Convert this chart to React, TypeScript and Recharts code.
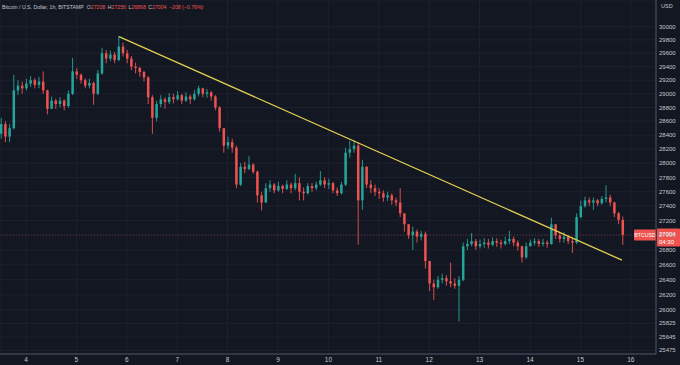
import React from 'react';
import { ComposedChart, Bar, XAxis, YAxis, CartesianGrid, ReferenceLine } from 'recharts';

// BTC/USD, 2h candles (open = previous close)
const firstOpen = 28420;
const startDay = 3.5;

const closes = [
  28560, 28380, 28500, 29050, 29120, 29080, 29150, 29200, 29130, 29180,
  29050, 28780, 28900, 28850, 28900, 28820, 29000, 29330, 29280, 29200,
  29120, 29160, 29000, 29300, 29600, 29520, 29580, 29500, 29700, 29600,
  29520, 29400, 29380, 29320, 29240, 28950, 28650, 28850, 28920, 28880,
  28950, 28920, 28980, 28900, 28960, 28920, 29000, 29080, 29000, 29020,
  28960, 28800, 28500, 28250, 28300, 28220, 27700, 27950, 27920, 27980,
  27880, 27550, 27450, 27650, 27700, 27620, 27680, 27640, 27700, 27650,
  27720, 27600, 27580, 27680, 27650, 27700, 27760, 27700, 27720, 27620,
  27580, 27700, 28150, 28200, 28250, 27480, 27950, 27700, 27650, 27600,
  27580, 27520, 27550, 27480, 27450, 27300, 27150, 27000, 27050, 26980,
  27020, 26650, 26350, 26300, 26400, 26420, 26380, 26350, 26320, 26400,
  26850, 26880, 26920, 26850, 26880, 26900, 26870, 26920, 26900, 26880,
  26920, 26950, 26900, 26850, 26700, 26850, 26900, 26920, 26880, 26900,
  26880, 27150, 27000, 26950, 26980, 26920, 26900, 27250, 27400, 27480,
  27450, 27480, 27440, 27500, 27520, 27450, 27300, 27210, 27004,
];

const highs = [
  28650, 28600, 28560, 29280, 29200, 29180, 29220, 29260, 29230, 29250,
  29330, 29060, 28960, 28930, 28950, 28920, 29050, 29530, 29380, 29300,
  29230, 29220, 29180, 29350, 29680, 29650, 29640, 29620, 29860, 29760,
  29650, 29560, 29460, 29400, 29340, 29260, 28980, 28900, 28980, 28950,
  29010, 29000, 29040, 29000, 29020, 28990, 29060, 29120, 29090, 29070,
  29040, 28980, 28820, 28500, 28380, 28350, 28250, 28000, 28020, 28100,
  28000, 27900, 27600, 27720, 27760, 27720, 27740, 27700, 27760, 27730,
  27850, 27800, 27660, 27720, 27720, 27740, 27890, 27800, 27780, 27740,
  27660, 27740, 28220, 28320, 28330, 28300, 28050, 27960, 27760, 27700,
  27650, 27620, 27600, 27580, 27520, 27650, 27300, 27150, 27120, 27080,
  27060, 27050, 26650, 26400, 26450, 26480, 26460, 26630, 26420, 26450,
  26900, 26950, 27030, 26950, 26940, 26960, 26950, 26970, 26960, 26940,
  26980, 27060, 26980, 26930, 26860, 26900, 26940, 26960, 26950, 26950,
  26930, 27240, 27150, 27050, 27040, 27000, 26980, 27300, 27480, 27530,
  27520, 27520, 27500, 27540, 27690, 27560, 27460, 27320, 27256,
];

const lows = [
  28350, 28300, 28300, 28480, 28980, 29000, 29050, 29100, 29080, 29080,
  29000, 28700, 28780, 28780, 28800, 28760, 28800, 28980, 29220, 29150,
  29080, 29080, 28840, 28980, 29280, 29450, 29480, 29450, 29480, 29550,
  29450, 29350, 29300, 29250, 29180, 28850, 28420, 28600, 28800, 28780,
  28850, 28860, 28900, 28850, 28880, 28850, 28900, 28960, 28950, 28940,
  28900, 28760, 28450, 28150, 28200, 28150, 27650, 27680, 27860, 27900,
  27850, 27450, 27340, 27450, 27600, 27580, 27600, 27580, 27620, 27580,
  27620, 27480, 27480, 27560, 27600, 27620, 27680, 27650, 27640, 27580,
  27540, 27560, 27680, 28080, 28150, 26870, 27350, 27650, 27580, 27540,
  27500, 27460, 27470, 27420, 27400, 27250, 27050, 26950, 26800, 26900,
  26930, 26550, 26250, 26130, 26280, 26350, 26320, 26300, 26280, 25850,
  26380, 26800, 26850, 26800, 26820, 26830, 26820, 26850, 26840, 26820,
  26860, 26880, 26850, 26790, 26630, 26680, 26850, 26860, 26840, 26850,
  26830, 26870, 26950, 26900, 26900, 26880, 26760, 26880, 27230, 27380,
  27400, 27350, 27400, 27420, 27450, 27400, 27250, 27150, 26868,
];

const dayTicks = [4, 5, 6, 7, 8, 9, 10, 11, 12, 13, 14, 15, 16];
const priceTicks = [
  25475, 25645, 25825, 26000, 26200, 26400, 26600, 26800, 27000, 27200, 27400,
  27600, 27800, 28000, 28200, 28400, 28600, 28800, 29000, 29200, 29400, 29600,
  29800, 30000,
];
const lastPrice = 27004;
const trendLine = [
  { x: 5.845, y: 29850 },
  { x: 15.825, y: 26663 },
];

const UP = '#26a69a';
const DOWN = '#ef5350';
const BG = '#131722';
const GRID = '#1d2130';
const TEXT = '#c3c6ce';
const FONT = '"Liberation Sans", Arial, sans-serif';

const candles = closes.map((close, i) => {
  const open = i === 0 ? firstOpen : closes[i - 1];
  return {
    t: startDay + i / 12,
    open,
    close,
    high: highs[i],
    low: lows[i],
    range: [lows[i], highs[i]],
  };
});

const Candle = (props: any) => {
  const { x, y, width, height, payload } = props;
  if (!payload || height == null) return null;
  const { open, close } = payload;
  const high = Math.max(payload.high, open, close);
  const low = Math.min(payload.low, open, close);
  const color = close >= open ? UP : DOWN;
  const lh = Math.log(high);
  const span = lh - Math.log(low) || 1;
  const yOf = (p: number) => y + (height * (lh - Math.log(p))) / span;
  const cx = x + width / 2;
  const top = yOf(Math.max(open, close));
  const bot = yOf(Math.min(open, close));
  return (
    <g>
      <line x1={cx} x2={cx} y1={y} y2={y + height} stroke={color} strokeWidth={0.9} />
      <rect x={cx - 1.25} y={top} width={2.5} height={Math.max(1, bot - top)} fill={color} />
    </g>
  );
};

const PriceTag = (props: any) => {
  const { viewBox } = props;
  if (!viewBox) return null;
  const y = viewBox.y;
  const right = viewBox.x + viewBox.width;
  return (
    <g fontFamily={FONT}>
      <rect x={right - 22} y={y - 5.5} width={22} height={11} fill={DOWN} rx={1} />
      <text x={right - 11} y={y + 2} fontSize={5.2} fill="#fff" textAnchor="middle">BTCUSD</text>
      <rect x={right + 1} y={y - 6.5} width={23} height={18} fill={DOWN} rx={1} />
      <text x={right + 3} y={y + 1.5} fontSize={6} fill="#fff">{lastPrice}</text>
      <text x={right + 3} y={y + 9} fontSize={6} fill="#fff">04:30</text>
    </g>
  );
};

const App = () => {
  return (
    <div style={{ position: 'relative', width: 680, height: 365, background: BG }}>
      <style>{'body{margin:0;background:' + BG + ';}'}</style>
      <ComposedChart
        width={680}
        height={365}
        data={candles}
        margin={{ top: 0, right: 0, bottom: 0, left: 0 }}
      >
        <CartesianGrid stroke={GRID} strokeWidth={1} />
        <XAxis
          dataKey="t"
          type="number"
          domain={[3.484, 16.5]}
          ticks={dayTicks}
          interval={0}
          allowDataOverflow
          height={11}
          tickLine={false}
          tickSize={0}
          tickMargin={3}
          axisLine={{ stroke: '#50535e' }}
          tick={{ fill: TEXT, fontSize: 6.5, fontFamily: FONT }}
        />
        <YAxis
          type="number"
          scale="log"
          orientation="right"
          domain={[25428, 30407]}
          ticks={priceTicks}
          interval={0}
          allowDataOverflow
          width={24}
          tickLine={false}
          tickSize={0}
          tickMargin={3}
          axisLine={{ stroke: '#50535e' }}
          tick={{ fill: TEXT, fontSize: 6, fontFamily: FONT, textAnchor: 'start' }}
        />
        <ReferenceLine
          y={lastPrice}
          stroke={DOWN}
          strokeOpacity={0.35}
          strokeDasharray="1 2"
          strokeWidth={1}
          label={<PriceTag />}
        />
        <Bar dataKey="range" shape={<Candle />} barSize={3} isAnimationActive={false} />
        <ReferenceLine
          segment={trendLine}
          stroke="#e3cf4e"
          strokeWidth={1.3}
          ifOverflow="visible"
        />
      </ComposedChart>
      <svg
        width={680}
        height={20}
        style={{ position: 'absolute', left: 0, top: 0 }}
        fontFamily={FONT}
      >
        <text x={2} y={8.5} fontSize={5.2} fill={TEXT}>
          Bitcoin / U.S. Dollar, 1h, BITSTAMP
          <tspan dx={3}>O</tspan>
          <tspan fill={DOWN}>27208</tspan>
          <tspan dx={2.5}>H</tspan>
          <tspan fill={DOWN}>27256</tspan>
          <tspan dx={2.5}>L</tspan>
          <tspan fill={DOWN}>26868</tspan>
          <tspan dx={2.5}>C</tspan>
          <tspan fill={DOWN}>27004</tspan>
          <tspan dx={2.5} fill={DOWN}>−208 (−0.76%)</tspan>
        </text>
        <text x={661} y={8} fontSize={5.5} fill={TEXT}>USD</text>
      </svg>
    </div>
  );
};

export default App;
